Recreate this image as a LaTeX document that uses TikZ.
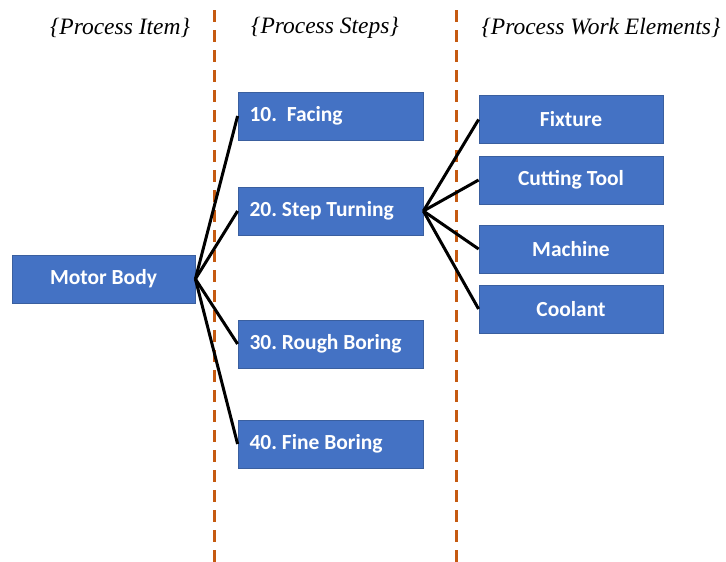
\documentclass[tikz,border=0pt]{standalone}
\usepackage{fontspec}
\setmainfont{Liberation Serif}
\newfontfamily\boxfont{Carlito}
\definecolor{boxblue}{HTML}{4472C4}
\definecolor{boxedge}{HTML}{3A5F9F}
\definecolor{rust}{HTML}{C55A11}
\newcommand{\steptext}[1]{\makebox[162pt][l]{#1}}
\begin{document}
\begin{tikzpicture}[x=1pt,y=-1pt,
  blk/.style={draw=boxedge, line width=0.8pt, fill=boxblue, text=white,
    font=\boxfont\bfseries\fontsize{21.5}{24}\selectfont, inner sep=0pt,
    minimum height=48pt},
  itembox/.style={blk, minimum width=183pt},
  stepbox/.style={blk, minimum width=185pt},
  elembox/.style={blk, minimum width=184pt},
  head/.style={font=\itshape\fontsize{23.5}{26}\selectfont},
  link/.style={line width=3pt, black},
  divider/.style={rust, line width=3pt, dash pattern=on 12pt off 8pt}
]
\useasboundingbox (0,0) rectangle (726,562);

% column dividers
\draw[divider] (214,10) -- (214,562);
\draw[divider] (456,10) -- (456,562);

% column headings
\node[head] (h1) at (120,28) {\{Process Item\}};
\node[head] (h2) at (325,28) {\{Process Steps\}};
\node[head] (h3) at (601,28) {\{Process Work Elements\}};

% process item
\node[itembox] (mb) at (103.5,279) {Motor Body};

% process steps
\node[stepbox] (s10) at (330.5,116) {\steptext{10.\ \ Facing}};
\node[stepbox] (s20) at (330.5,211) {\steptext{20.\ Step Turning}};
\node[stepbox] (s30) at (330.5,344) {\steptext{30.\ Rough Boring}};
\node[stepbox] (s40) at (330.5,444) {\steptext{40.\ Fine Boring}};

% work elements
\node[elembox] (fx) at (571,119.5) {Fixture};
\node[elembox] (ct) at (571,180) {Cutting Tool};
\node[elembox] (mc) at (571,249) {Machine};
\node[elembox] (cl) at (571,309) {Coolant};

% connectors
\foreach \s in {s10,s20,s30,s40}
  \draw[link] (mb.east) -- (\s.west);
\foreach \e in {fx,ct,mc,cl}
  \draw[link] (s20.east) -- (\e.west);
\end{tikzpicture}
\end{document}
